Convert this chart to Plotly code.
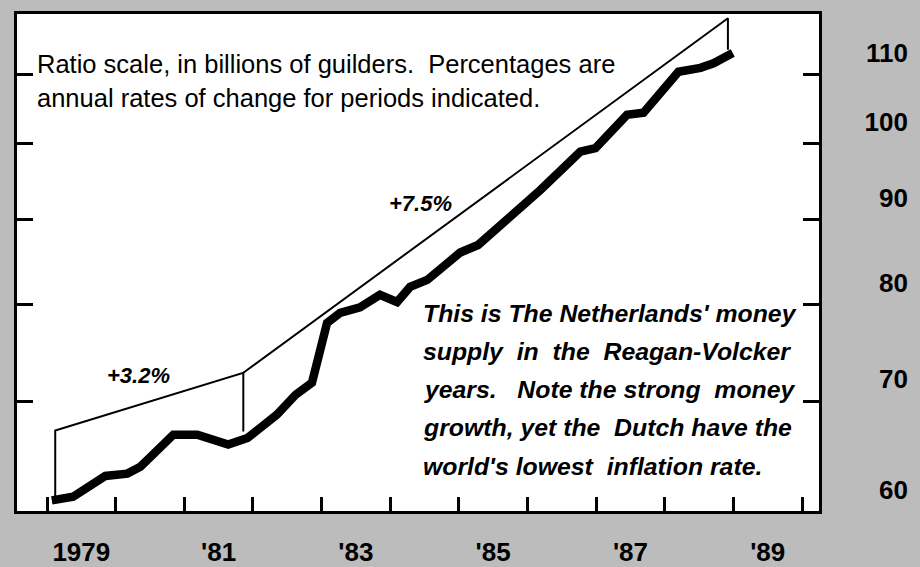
import plotly.graph_objects as go

# ---- data ----
dates = [1979.07, 1979.38, 1979.85, 1980.17, 1980.36, 1980.84, 1981.19, 1981.64,
         1981.92, 1982.35, 1982.62, 1982.86, 1983.08, 1983.27, 1983.56, 1983.85,
         1984.10, 1984.29, 1984.54, 1985.02, 1985.28, 1986.19, 1986.77, 1986.99,
         1987.45, 1987.69, 1988.20, 1988.52, 1988.71, 1988.99]
money_supply = [61.0, 61.3, 63.1, 63.3, 63.9, 66.8, 66.8, 65.9,
                66.5, 68.7, 70.6, 71.8, 78.0, 79.1, 79.7, 81.1,
                80.3, 82.0, 82.8, 86.0, 86.9, 93.8, 98.9, 99.4,
                104.1, 104.4, 110.5, 111.1, 111.8, 113.4]

trend1_x = [1979.12, 1979.12, 1981.86, 1981.86]
trend1_y = [61.3, 67.2, 72.8, 67.1]
trend2_x = [1981.86, 1988.92, 1988.92]
trend2_y = [72.8, 119.0, 113.9]

year_ticks = list(range(1979, 1991))
label_pos = [1979.5, 1981.5, 1983.5, 1985.5, 1987.5, 1989.5]
label_text = ["1979", "'81", "'83", "'85", "'87", "'89"]
y_ticks = [70, 80, 90, 100, 110]
y_labels = [60, 70, 80, 90, 100, 110]

# ---- figure ----
W, H = 920, 567
ML, MR, MT, MB = 17, 5, 14, 56
PW = W - ML - MR
PH = H - MT - MB
BG = "#bcbcbc"

def xp(px):
    return (px - ML) / PW

def yp(py):
    return (MT + PH - py) / PH

fig = go.Figure()
fig.add_trace(go.Scatter(x=trend1_x, y=trend1_y, mode="lines",
                         line=dict(color="black", width=2), hoverinfo="skip"))
fig.add_trace(go.Scatter(x=trend2_x, y=trend2_y, mode="lines",
                         line=dict(color="black", width=2), hoverinfo="skip"))
fig.add_trace(go.Scatter(x=dates, y=money_supply, mode="lines",
                         line=dict(color="black", width=8.5)))
# carrier for the right-hand label axis (invisible)
fig.add_trace(go.Scatter(x=[label_pos[0]] * len(y_labels), y=y_labels, yaxis="y2",
                         mode="markers", marker=dict(opacity=0), hoverinfo="skip"))

font_reg = "Liberation Sans, Arial, Helvetica, sans-serif"

fig.update_layout(
    template="none",
    width=W, height=H,
    margin=dict(l=ML, r=MR, t=MT, b=MB, pad=0),
    paper_bgcolor=BG,
    plot_bgcolor="white",
    showlegend=False,
    xaxis=dict(
        domain=[0, (819 - ML) / PW], automargin=False,
        range=[1978.563, 1990.247],
        showline=True, linecolor="black", linewidth=3, mirror=True,
        showgrid=False, zeroline=False,
        tickmode="array", tickvals=label_pos, ticktext=label_text,
        ticks="", ticklabelstandoff=16,
        tickfont=dict(family=font_reg, size=26, color="black", weight="bold"),
        minor=dict(tickmode="array", tickvals=year_ticks, ticks="inside",
                   ticklen=14, tickwidth=2.5, tickcolor="black", showgrid=False),
    ),
    yaxis=dict(
        type="log", automargin=False,
        range=[1.77890, 2.07811],
        showline=True, linecolor="black", linewidth=3, mirror="ticks",
        showgrid=False, zeroline=False,
        tickmode="array", tickvals=y_ticks, ticks="inside",
        ticklen=16, tickwidth=2.5, tickcolor="black",
        showticklabels=False,
    ),
    yaxis2=dict(
        type="log", overlaying="y", anchor="free", side="left", automargin=False,
        position=(908 - ML) / PW,
        range=[1.76565, 2.06487],
        showline=False, showgrid=False, zeroline=False, ticks="",
        tickmode="array", tickvals=y_labels, ticktext=[str(v) for v in y_labels],
        tickfont=dict(family=font_reg, size=26, color="black", weight="bold"),
    ),
)

def note(text, px, py, size, italic=False, bold=False, xanchor="left"):
    fig.add_annotation(
        text=text, xref="paper", yref="paper", x=xp(px), y=yp(py),
        xanchor=xanchor, yanchor="middle", showarrow=False,
        font=dict(family=font_reg, size=size, color="black",
                  style="italic" if italic else "normal",
                  weight="bold" if bold else "normal"),
    )

note("Ratio scale, in billions of guilders.\u00a0 Percentages are", 35, 64, 25.5)
note("annual rates of change for periods indicated.", 35, 98, 25.5)
note("+7.5%", 420, 203, 22, italic=True, bold=True, xanchor="center")
note("+3.2%", 138, 375, 22, italic=True, bold=True, xanchor="center")

para = ["This is The Netherlands' money",
        "supply\u00a0 in\u00a0 the\u00a0 Reagan-Volcker",
        "years.\u00a0\u00a0 Note the strong\u00a0 money",
        "growth, yet the\u00a0 Dutch have the",
        "world's lowest\u00a0 inflation rate."]
for i, line in enumerate(para):
    note(line, 421, 313 + i * 38.3, 24.8, italic=True, bold=True)

fig.write_html(
    "out.html",
    config={"displayModeBar": False},
    post_script="document.body.style.margin='0';"
                "document.body.style.background='" + BG + "';",
)
